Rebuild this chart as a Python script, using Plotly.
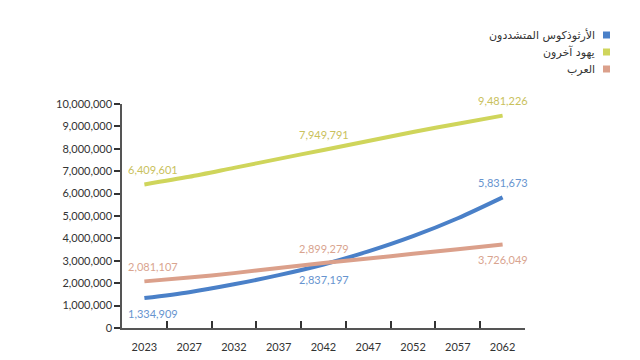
import plotly.graph_objects as go

years = ["2023", "2027", "2032", "2037", "2042", "2047", "2052", "2057", "2062"]
haredi = [1334909, 1600000, 1950000, 2360000, 2837197, 3420000, 4100000, 4900000, 5831673]
other_jews = [6409601, 6750000, 7150000, 7550000, 7949791, 8350000, 8750000, 9120000, 9481226]
arabs = [2081107, 2250000, 2450000, 2680000, 2899279, 3100000, 3310000, 3520000, 3726049]

names = ["الأرثوذكوس المتشددون", "يهود آخرون", "العرب"]
line_colors = ["#4a80c8", "#cfd55b", "#dba08b"]
label_colors = ["#6794cf", "#c9c15c", "#d9a48f"]
series = [haredi, other_jews, arabs]
label_idx = [0, 4, 8]
label_side = [[-1, -1, 1], [1, 1, 1], [1, 1, -1]]

# page body has 8px margin, so figure is sized to fit the 640x360 window
OFF = 8
W, H = 640 - 2 * OFF, 360 - 2 * OFF
ml, mt = 122 - OFF, 104 - OFF
pw, ph = 403, 224
mr, mb = W - ml - pw, H - mt - ph


def px2paper(px, py):
    return (px - OFF - ml) / pw, 1 - (py - OFF - mt) / ph


fig = go.Figure()
annotations = []
shapes = []
for vals, name, lc, tc, sides in zip(series, names, line_colors, label_colors, label_side):
    fig.add_trace(go.Scatter(x=years, y=vals, mode="lines", name=name,
                             line=dict(color=lc, width=4, shape="spline", smoothing=0.8),
                             showlegend=False))
    for i, s in zip(label_idx, sides):
        annotations.append(dict(x=i, y=vals[i], text=f"{vals[i]:,}", showarrow=False,
                                xref="x", yref="y", yshift=15 * s,
                                xshift=9 if i == 0 else 0,
                                font=dict(size=11, color=tc, family="Lato, Noto Sans, sans-serif")))

for k, (name, lc) in enumerate(zip(names, line_colors)):
    py = 35 + 17 * k
    tx, ty = px2paper(597, py)
    annotations.append(dict(x=tx, y=ty, xref="paper", yref="paper", text=name, showarrow=False,
                            xanchor="right", yanchor="middle",
                            font=dict(size=11, color="#333", family="DejaVu Sans, sans-serif")))
    x0, y1 = px2paper(603, py - 3.5)
    x1, y0 = px2paper(610, py + 3.5)
    shapes.append(dict(type="rect", xref="paper", yref="paper", x0=x0, x1=x1, y0=y0, y1=y1,
                       fillcolor=lc, line=dict(width=0)))

fig.update_layout(
    annotations=annotations,
    shapes=shapes,
    width=W, height=H,
    margin=dict(l=ml, r=mr, t=mt, b=mb, pad=0, autoexpand=False),
    paper_bgcolor="white", plot_bgcolor="white",
    font=dict(family="Lato, Noto Sans, sans-serif", color="#333", size=11),
    xaxis=dict(type="category", range=[-0.5, 8.5], tickson="boundaries", ticks="inside",
               ticklen=7, tickwidth=1.5, tickcolor="#333", showline=True, linecolor="#555",
               linewidth=1.5, showgrid=False, zeroline=False, tickfont=dict(size=11, color="#333"),
               ticklabelstandoff=8, automargin=False),
    yaxis=dict(range=[0, 10000000], dtick=1000000, tickformat=",d", ticks="outside", ticklen=6,
               tickwidth=1.5, tickcolor="#333", showline=True, linecolor="#555", linewidth=1.5,
               showgrid=False, zeroline=False, tickfont=dict(size=11, color="#333"),
               automargin=False),
)
fig.write_html("out.html")
